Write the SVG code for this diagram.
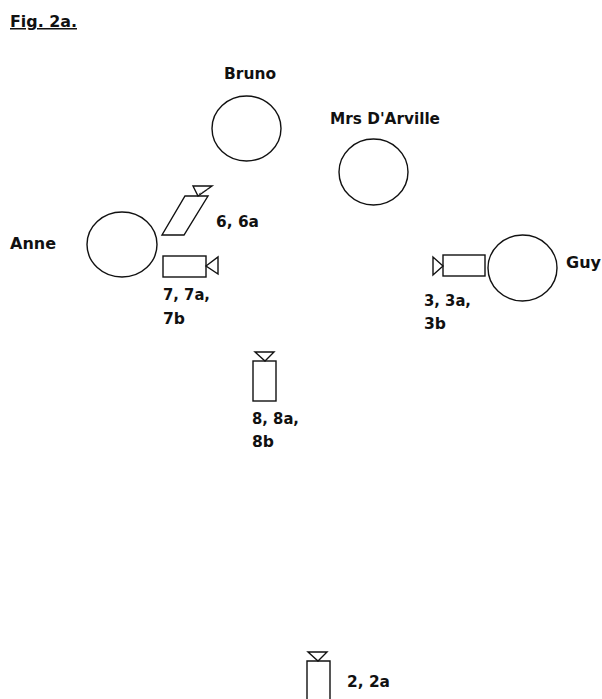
<svg xmlns="http://www.w3.org/2000/svg" width="602" height="699" viewBox="0 0 602 699">
<style>
text{font-family:"DejaVu Sans",sans-serif;font-weight:700;font-size:15px;fill:#111}
.s{fill:#fff;stroke:#111;stroke-width:1.4}
.d{fill:none;stroke:#555;stroke-width:1;stroke-dasharray:2 2}
</style>
<rect width="602" height="699" fill="#fff"/>
<text x="10" y="27" style="text-decoration:underline" textLength="67" lengthAdjust="spacingAndGlyphs">Fig. 2a.</text>
<g id="bruno"><ellipse class="s" cx="246.500" cy="128.500" rx="34.500" ry="32.500"/><text x="224" y="79" textLength="52" lengthAdjust="spacingAndGlyphs">Bruno</text></g>
<g id="mrs-darville"><ellipse class="s" cx="373.500" cy="172" rx="34.500" ry="33"/><text x="330" y="124" textLength="110" lengthAdjust="spacingAndGlyphs">Mrs D'Arville</text></g>
<g id="anne"><ellipse class="s" cx="122" cy="244.500" rx="35" ry="32.500"/><text x="10" y="249" textLength="46" lengthAdjust="spacingAndGlyphs">Anne</text></g>
<g id="guy"><ellipse class="s" cx="522.500" cy="268" rx="34.500" ry="33"/><text x="566" y="268" textLength="35" lengthAdjust="spacingAndGlyphs">Guy</text></g>
<g id="camera-6"><polygon class="s" points="185,196 208,196 184,235 162,235"/><polygon class="s" points="193,186 212,186 198,196"/><line class="d" x1="199" y1="194" x2="210" y2="188"/><text x="216" y="227" textLength="43" lengthAdjust="spacingAndGlyphs">6, 6a</text></g>
<g id="camera-7"><rect class="s" x="163" y="256" width="43" height="21"/><polygon class="s" points="206,266 218,257 218,274"/><text x="163" y="300" textLength="47" lengthAdjust="spacingAndGlyphs">7, 7a,</text><text x="163" y="324" textLength="22" lengthAdjust="spacingAndGlyphs">7b</text></g>
<g id="camera-3"><rect class="s" x="443" y="255" width="42" height="21"/><polygon class="s" points="443,266 433,257 433,275"/><text x="424" y="306" textLength="47" lengthAdjust="spacingAndGlyphs">3, 3a,</text><text x="424" y="329" textLength="22" lengthAdjust="spacingAndGlyphs">3b</text></g>
<g id="camera-8"><rect class="s" x="253" y="361" width="23" height="40"/><polygon class="s" points="255,352 274,352 265,361"/><text x="252" y="424" textLength="47" lengthAdjust="spacingAndGlyphs">8, 8a,</text><text x="252" y="447" textLength="22" lengthAdjust="spacingAndGlyphs">8b</text></g>
<g id="camera-2"><path class="s" d="M307 699V661H330V699"/><polygon class="s" points="308,652 327,652 318,661"/><text x="347" y="687" textLength="43" lengthAdjust="spacingAndGlyphs">2, 2a</text></g>
<g id="connectors"></g>
</svg>
